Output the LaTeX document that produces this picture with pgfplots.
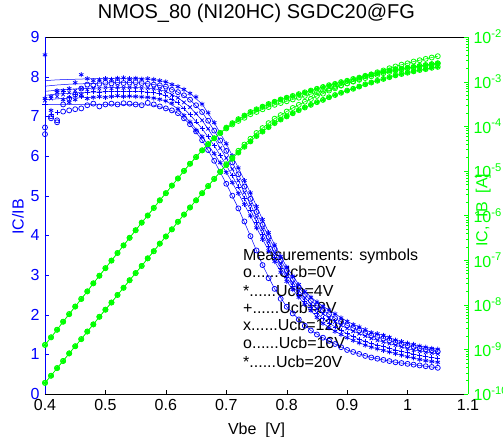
\documentclass[border=0pt]{standalone}
\usepackage{pgfplots}
\pgfplotsset{compat=1.18}
\usepackage{pgfplotstable}
\usepackage{fontspec}
\setmainfont{Liberation Sans}
\definecolor{mblue}{RGB}{0,0,255}
\definecolor{mgreen}{RGB}{0,255,0}

% IC/IB measurements (symbols), Ucb = 0,4,8,12,16,20 V
\pgfplotstableread{
V u0 u4 u8 u12 u16 u20
0.40 6.55 7.45 7.30 7.40 6.72 8.55
0.41 6.95 7.15 7.05 7.45 7.00 7.50
0.42 6.85 7.60 7.10 7.50 6.90 7.65
0.43 7.12 7.42 7.62 7.55 7.30 7.65
0.44 7.15 7.35 7.48 7.60 7.45 7.70
0.45 7.18 7.42 7.55 7.65 7.55 7.85
0.46 7.20 7.55 7.50 7.70 7.70 8.05
0.47 7.28 7.45 7.60 7.68 7.80 7.95
0.48 7.32 7.48 7.62 7.72 7.78 7.90
0.49 7.25 7.50 7.60 7.70 7.82 7.92
0.50 7.30 7.48 7.63 7.73 7.85 7.95
0.51 7.32 7.50 7.62 7.71 7.83 7.93
0.52 7.30 7.52 7.64 7.74 7.86 7.96
0.53 7.33 7.50 7.63 7.72 7.84 7.97
0.54 7.32 7.51 7.62 7.73 7.85 7.95
0.55 7.30 7.50 7.64 7.74 7.86 7.96
0.56 7.28 7.49 7.62 7.72 7.84 7.94
0.57 7.34 7.48 7.61 7.71 7.82 7.95
0.58 7.30 7.46 7.60 7.70 7.80 7.93
0.59 7.25 7.43 7.57 7.67 7.78 7.90
0.60 7.20 7.39 7.52 7.63 7.75 7.87
0.61 7.15 7.33 7.44 7.54 7.67 7.80
0.62 7.08 7.19 7.34 7.47 7.61 7.75
0.63 6.95 7.02 7.19 7.35 7.53 7.68
0.64 6.80 6.86 7.04 7.23 7.42 7.58
0.65 6.62 6.65 6.86 7.07 7.28 7.49
0.66 6.40 6.49 6.69 6.90 7.11 7.31
0.67 6.15 6.29 6.49 6.69 6.89 7.09
0.68 5.88 6.06 6.26 6.45 6.64 6.84
0.69 5.60 5.83 6.01 6.20 6.39 6.57
0.70 5.30 5.59 5.77 5.95 6.13 6.31
0.71 5.00 5.33 5.50 5.67 5.84 6.01
0.72 4.68 5.06 5.22 5.38 5.54 5.70
0.73 4.35 4.78 4.93 5.08 5.23 5.38
0.74 3.98 4.49 4.64 4.78 4.92 5.07
0.75 3.62 4.19 4.33 4.46 4.59 4.73
0.76 3.25 3.90 4.03 4.15 4.27 4.40
0.77 2.92 3.61 3.72 3.84 3.96 4.07
0.78 2.65 3.34 3.44 3.55 3.66 3.76
0.79 2.40 3.07 3.17 3.27 3.37 3.47
0.80 2.20 2.84 2.93 3.02 3.11 3.20
0.81 2.03 2.63 2.72 2.80 2.88 2.97
0.82 1.88 2.44 2.52 2.60 2.68 2.76
0.83 1.72 2.26 2.34 2.42 2.50 2.58
0.84 1.60 2.10 2.19 2.27 2.35 2.44
0.85 1.50 1.93 2.03 2.14 2.23 2.32
0.86 1.42 1.78 1.90 2.02 2.11 2.21
0.87 1.34 1.67 1.79 1.91 2.01 2.12
0.88 1.26 1.58 1.69 1.82 1.91 2.02
0.89 1.18 1.50 1.60 1.73 1.82 1.92
0.90 1.11 1.42 1.52 1.65 1.73 1.83
0.91 1.06 1.35 1.45 1.58 1.66 1.75
0.92 1.01 1.29 1.38 1.52 1.60 1.69
0.93 0.96 1.23 1.33 1.46 1.53 1.62
0.94 0.92 1.18 1.27 1.40 1.47 1.55
0.95 0.89 1.14 1.23 1.35 1.44 1.52
0.96 0.86 1.10 1.20 1.31 1.40 1.48
0.97 0.83 1.06 1.15 1.27 1.35 1.43
0.98 0.80 1.02 1.11 1.23 1.30 1.36
0.99 0.78 0.98 1.07 1.19 1.26 1.32
1.00 0.76 0.94 1.04 1.14 1.22 1.28
1.01 0.74 0.91 1.01 1.11 1.19 1.25
1.02 0.72 0.87 0.97 1.08 1.15 1.21
1.03 0.70 0.84 0.94 1.05 1.12 1.18
1.04 0.68 0.82 0.92 1.03 1.10 1.15
1.05 0.66 0.80 0.90 1.01 1.07 1.13
}\bluemeas

% IC/IB model lines
\pgfplotstableread{
V l0 l4 l8 l12 l16 l20
0.40 7.30 7.42 7.53 7.63 7.76 7.90
0.42 7.30 7.44 7.56 7.66 7.79 7.92
0.44 7.30 7.46 7.58 7.68 7.81 7.93
0.46 7.30 7.47 7.60 7.70 7.82 7.94
0.48 7.30 7.48 7.61 7.71 7.83 7.95
0.50 7.30 7.49 7.62 7.72 7.84 7.95
0.52 7.30 7.50 7.63 7.73 7.85 7.96
0.54 7.30 7.50 7.63 7.73 7.85 7.96
0.56 7.29 7.49 7.62 7.72 7.84 7.95
0.58 7.28 7.46 7.60 7.70 7.80 7.93
0.60 7.20 7.39 7.52 7.63 7.75 7.87
0.62 7.08 7.19 7.34 7.47 7.61 7.75
0.64 6.80 6.86 7.04 7.23 7.42 7.58
0.66 6.40 6.49 6.69 6.90 7.11 7.31
0.68 5.88 6.06 6.26 6.45 6.64 6.84
0.70 5.30 5.59 5.77 5.95 6.13 6.31
0.72 4.68 5.06 5.22 5.38 5.54 5.70
0.74 3.98 4.49 4.64 4.78 4.92 5.07
0.76 3.25 3.90 4.03 4.15 4.27 4.40
0.78 2.65 3.34 3.44 3.55 3.66 3.76
0.80 2.20 2.84 2.93 3.02 3.11 3.20
0.82 1.88 2.44 2.52 2.60 2.68 2.76
0.84 1.60 2.10 2.19 2.27 2.35 2.44
0.86 1.42 1.78 1.90 2.02 2.11 2.21
0.88 1.26 1.58 1.69 1.82 1.91 2.02
0.90 1.11 1.42 1.52 1.65 1.73 1.83
0.92 1.01 1.29 1.38 1.52 1.60 1.69
0.94 0.92 1.18 1.27 1.40 1.47 1.55
0.96 0.86 1.10 1.20 1.31 1.40 1.48
0.98 0.80 1.02 1.11 1.23 1.30 1.36
1.00 0.76 0.94 1.04 1.14 1.22 1.28
1.02 0.72 0.87 0.97 1.08 1.15 1.21
1.04 0.68 0.82 0.92 1.03 1.10 1.15
1.05 0.66 0.80 0.90 1.01 1.07 1.13
}\bluelines

% IC and IB [A]; ic0/ib0 = Ucb 0 V
\pgfplotstableread{
V ic ib ic0 ib0
0.40 1.259e-9 1.778e-10 1.259e-9 1.778e-10
0.41 1.862e-9 2.570e-10 1.862e-9 2.570e-10
0.42 2.754e-9 3.802e-10 2.754e-9 3.802e-10
0.43 4.169e-9 5.495e-10 4.169e-9 5.495e-10
0.44 6.166e-9 8.128e-10 6.166e-9 8.128e-10
0.45 9.120e-9 1.175e-9 9.120e-9 1.175e-9
0.46 1.349e-8 1.698e-9 1.349e-8 1.698e-9
0.47 1.995e-8 2.512e-9 1.995e-8 2.512e-9
0.48 3.020e-8 3.631e-9 3.020e-8 3.631e-9
0.49 4.467e-8 5.370e-9 4.467e-8 5.370e-9
0.50 6.607e-8 7.762e-9 6.607e-8 7.762e-9
0.51 9.772e-8 1.122e-8 9.772e-8 1.122e-8
0.52 1.445e-7 1.660e-8 1.445e-7 1.660e-8
0.53 2.138e-7 2.399e-8 2.138e-7 2.399e-8
0.54 3.162e-7 3.548e-8 3.162e-7 3.548e-8
0.55 4.677e-7 5.129e-8 4.677e-7 5.129e-8
0.56 6.918e-7 7.413e-8 6.918e-7 7.413e-8
0.57 1.000e-6 1.096e-7 1.000e-6 1.096e-7
0.58 1.479e-6 1.585e-7 1.479e-6 1.585e-7
0.59 2.188e-6 2.344e-7 2.188e-6 2.344e-7
0.60 3.162e-6 3.388e-7 3.162e-6 3.388e-7
0.61 4.677e-6 4.898e-7 4.677e-6 4.898e-7
0.62 6.761e-6 7.244e-7 6.761e-6 7.244e-7
0.63 1.000e-5 1.047e-6 1.000e-5 1.047e-6
0.64 1.445e-5 1.514e-6 1.445e-5 1.514e-6
0.65 2.042e-5 2.188e-6 2.042e-5 2.188e-6
0.66 2.884e-5 3.162e-6 2.884e-5 3.162e-6
0.67 3.981e-5 4.571e-6 3.981e-5 4.571e-6
0.68 5.370e-5 6.607e-6 5.370e-5 6.607e-6
0.69 7.079e-5 9.550e-6 7.079e-5 9.550e-6
0.70 9.333e-5 1.349e-5 8.913e-5 1.413e-5
0.71 1.175e-4 1.862e-5 1.096e-4 1.995e-5
0.72 1.445e-4 2.570e-5 1.318e-4 2.818e-5
0.73 1.738e-4 3.467e-5 1.549e-4 3.890e-5
0.74 2.089e-4 4.571e-5 1.862e-4 5.248e-5
0.75 2.399e-4 6.026e-5 2.089e-4 7.079e-5
0.76 2.754e-4 7.586e-5 2.399e-4 9.120e-5
0.77 3.162e-4 9.550e-5 2.692e-4 1.175e-4
0.78 3.548e-4 1.175e-4 3.020e-4 1.479e-4
0.79 3.981e-4 1.413e-4 3.311e-4 1.778e-4
0.80 4.365e-4 1.660e-4 3.631e-4 2.138e-4
0.81 4.786e-4 1.950e-4 3.981e-4 2.570e-4
0.82 5.248e-4 2.291e-4 4.365e-4 3.020e-4
0.83 5.754e-4 2.630e-4 4.786e-4 3.548e-4
0.84 6.310e-4 3.020e-4 5.248e-4 4.074e-4
0.85 6.918e-4 3.467e-4 5.754e-4 4.786e-4
0.86 7.586e-4 3.890e-4 6.310e-4 5.370e-4
0.87 8.318e-4 4.467e-4 6.918e-4 6.310e-4
0.88 8.913e-4 5.012e-4 7.586e-4 7.079e-4
0.89 9.772e-4 5.623e-4 8.318e-4 8.128e-4
0.90 1.047e-3 6.310e-4 9.120e-4 9.120e-4
0.91 1.148e-3 6.918e-4 1.000e-3 1.023e-3
0.92 1.230e-3 7.762e-4 1.096e-3 1.148e-3
0.93 1.349e-3 8.710e-4 1.202e-3 1.318e-3
0.94 1.445e-3 9.550e-4 1.318e-3 1.445e-3
0.95 1.549e-3 1.047e-3 1.413e-3 1.622e-3
0.96 1.660e-3 1.148e-3 1.549e-3 1.778e-3
0.97 1.778e-3 1.259e-3 1.660e-3 1.995e-3
0.98 1.862e-3 1.380e-3 1.778e-3 2.188e-3
0.99 1.950e-3 1.479e-3 1.862e-3 2.399e-3
1.00 2.042e-3 1.585e-3 1.995e-3 2.570e-3
1.01 2.138e-3 1.698e-3 2.089e-3 2.818e-3
1.02 2.239e-3 1.820e-3 2.239e-3 3.020e-3
1.03 2.344e-3 1.905e-3 2.344e-3 3.236e-3
1.04 2.455e-3 2.042e-3 2.455e-3 3.467e-3
1.05 2.570e-3 2.138e-3 2.570e-3 3.715e-3
}\greendata

\pgfplotsset{
  common/.style={
    at={(45bp,43bp)}, anchor=south west, scale only axis,
    width=423bp, height=357bp,
    xmin=0.4, xmax=1.1, clip=false,
    tick align=inside, major tick length=4bp, minor tick length=2bp,
    /pgf/number format/assume math mode=true,
  },
  bm/.style={mblue, only marks, mark size=2.5bp, mark options={line width=0.75bp}},
  gm/.style={mgreen, only marks, mark size=2.5bp, mark options={line width=0.8bp}},
}

\begin{document}
\fontsize{16bp}{19bp}\selectfont
\begin{tikzpicture}
\useasboundingbox (0,0) rectangle (503bp,437bp);
\begin{axis}[common,
  ymin=0, ymax=9,
  axis x line*=box, axis y line*=left,
  xtick={0.4,0.5,0.6,0.7,0.8,0.9,1,1.1}, xtick pos=left,
  ytick={0,1,2,3,4,5,6,7,8,9},
  x axis line style={black, line width=0.7bp},
  y axis line style={mblue, line width=0.7bp},
  y tick style={mblue}, x tick style={black},
  yticklabel style={mblue},
  title={NMOS\_80 (NI20HC) SGDC20@FG},
  title style={at={(axis description cs:0.5,1.049)}, anchor=center, font=\fontsize{20bp}{23bp}\selectfont},
  xlabel={Vbe\ \ [V]},
  xlabel style={at={(axis description cs:0.5,-0.103)}, anchor=center},
  ylabel={IC/IB},
  ylabel style={mblue, at={(axis description cs:-0.064,0.496)}, anchor=center},
]
\foreach \c in {l0,l4,l8,l12,l16,l20}{
  \addplot[mblue, line width=0.5bp, no marks] table[x=V,y=\c]{\bluelines};
}
\addplot[bm, mark=o] table[x=V,y=u0]{\bluemeas};
\addplot[bm, mark=asterisk] table[x=V,y=u4]{\bluemeas};
\addplot[bm, mark=+] table[x=V,y=u8]{\bluemeas};
\addplot[bm, mark=x] table[x=V,y=u12]{\bluemeas};
\addplot[bm, mark=o] table[x=V,y=u16]{\bluemeas};
\addplot[bm, mark=asterisk] table[x=V,y=u20]{\bluemeas};

\node[anchor=base west, inner sep=0pt] at (axis cs:0.7277,3.364) {Measurements: symbols};
\node[anchor=base west, inner sep=0pt] at (axis cs:0.7277,2.93) {o......Ucb=0V};
\node[anchor=base west, inner sep=0pt] at (axis cs:0.7277,2.47) {*......Ucb=4V};
\node[anchor=base west, inner sep=0pt] at (axis cs:0.7277,2.03) {+......Ucb=8V};
\node[anchor=base west, inner sep=0pt] at (axis cs:0.7277,1.59) {x......Ucb=12V};
\node[anchor=base west, inner sep=0pt] at (axis cs:0.7277,1.14) {o......Ucb=16V};
\node[anchor=base west, inner sep=0pt] at (axis cs:0.7277,0.68) {*......Ucb=20V};
\end{axis}

\begin{axis}[common,
  ymode=log, ymin=1e-10, ymax=1e-2,
  axis x line=none, axis y line*=right,
  y axis line style={mgreen, line width=0.7bp},
  y tick style={mgreen},
  ytick={1e-10,1e-9,1e-8,1e-7,1e-6,1e-5,1e-4,1e-3,1e-2},
  yticklabels={10\textsuperscript{-10},10\textsuperscript{-9},10\textsuperscript{-8},10\textsuperscript{-7},10\textsuperscript{-6},10\textsuperscript{-5},10\textsuperscript{-4},10\textsuperscript{-3},10\textsuperscript{-2}},
  minor ytick={2e-10,3e-10,4e-10,5e-10,6e-10,7e-10,8e-10,9e-10,
    2e-9,3e-9,4e-9,5e-9,6e-9,7e-9,8e-9,9e-9,
    2e-8,3e-8,4e-8,5e-8,6e-8,7e-8,8e-8,9e-8,
    2e-7,3e-7,4e-7,5e-7,6e-7,7e-7,8e-7,9e-7,
    2e-6,3e-6,4e-6,5e-6,6e-6,7e-6,8e-6,9e-6,
    2e-5,3e-5,4e-5,5e-5,6e-5,7e-5,8e-5,9e-5,
    2e-4,3e-4,4e-4,5e-4,6e-4,7e-4,8e-4,9e-4,
    2e-3,3e-3,4e-3,5e-3,6e-3,7e-3,8e-3,9e-3},
  yticklabel style={mgreen},
  ylabel={IC,\ \ IB\ \ [A]},
  ylabel style={mgreen, at={(axis description cs:1.036,0.515)}, anchor=center},
]
\addplot[mgreen, line width=0.6bp, no marks] table[x=V,y=ic]{\greendata};
\addplot[mgreen, line width=0.6bp, no marks] table[x=V,y=ib]{\greendata};
\addplot[mgreen, line width=0.6bp, no marks] table[x=V,y=ic0]{\greendata};
\addplot[mgreen, line width=0.6bp, no marks] table[x=V,y=ib0]{\greendata};
\addplot[gm, mark=asterisk] table[x=V,y=ic]{\greendata};
\addplot[gm, mark=+] table[x=V,y=ic]{\greendata};
\addplot[gm, mark=x] table[x=V,y=ic]{\greendata};
\addplot[gm, mark=o] table[x=V,y=ic]{\greendata};
\addplot[gm, mark=o] table[x=V,y=ic0]{\greendata};
\addplot[gm, mark=asterisk] table[x=V,y=ib]{\greendata};
\addplot[gm, mark=+] table[x=V,y=ib]{\greendata};
\addplot[gm, mark=x] table[x=V,y=ib]{\greendata};
\addplot[gm, mark=o] table[x=V,y=ib]{\greendata};
\addplot[gm, mark=o] table[x=V,y=ib0]{\greendata};
\end{axis}
\end{tikzpicture}
\end{document}
